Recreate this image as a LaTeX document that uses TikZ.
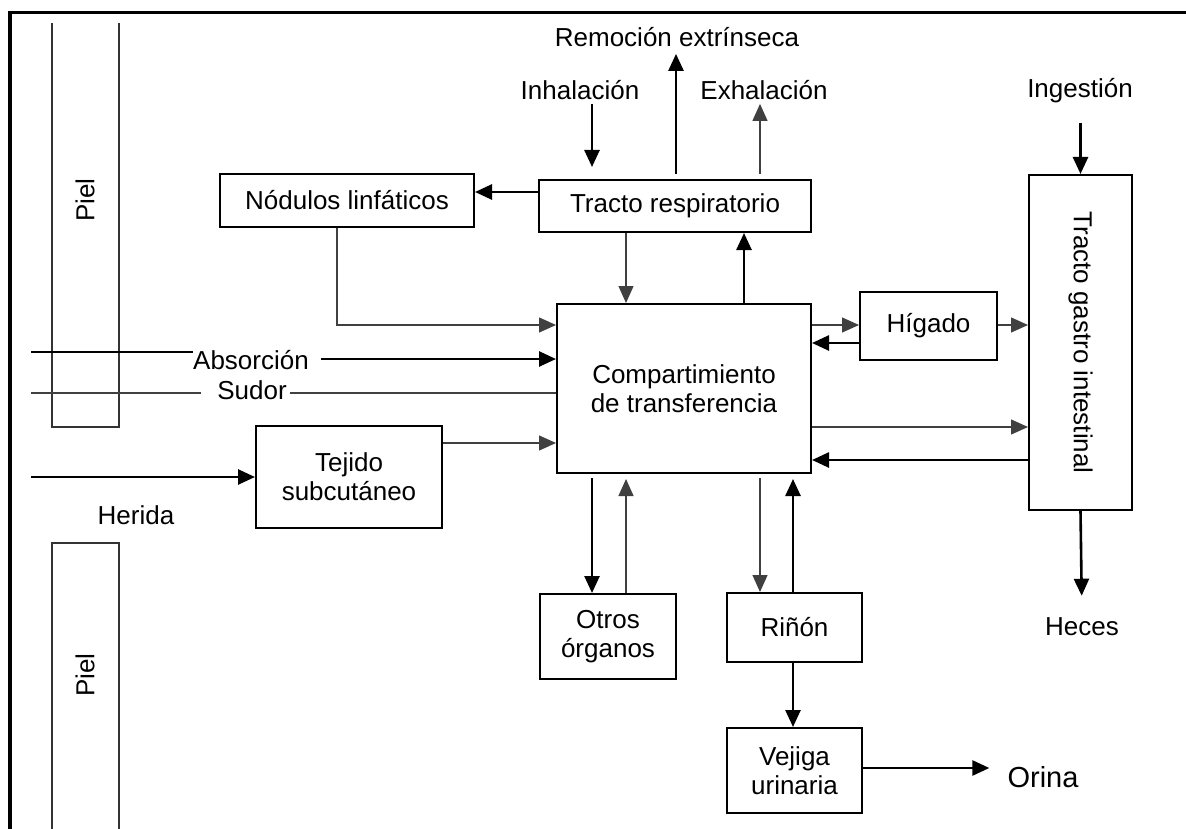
\documentclass[tikz,border=0pt]{standalone}
\usepackage{fontspec}
\setmainfont{Liberation Sans}
\usetikzlibrary{arrows.meta}
\begin{document}
\begin{tikzpicture}[x=1pt,y=-1pt,
  every node/.style={font=\fontsize{26}{29}\selectfont, inner sep=0pt},
  box/.style={draw, line width=2pt, align=center},
  tip/.style={-{Triangle[length=17pt,width=15pt]}},
  thk/.style={line width=2.6pt},
  thn/.style={line width=1.2pt, draw=black!75},
  skin/.style={line width=1.6pt, draw=black!80},
  frame/.style={line width=3.5pt}
]
\useasboundingbox (0,0) rectangle (1186,829);

% outer frame (top and left only)
\draw[frame] (10,829) -- (10,12.7) -- (1186,12.7);

% skin layers
\draw[skin] (52,23) -- (52,427) -- (119,427) -- (119,23);
\draw[skin] (52,829) -- (52,543) -- (119,543) -- (119,829);
\node[rotate=90] (piel1) at (85,200) {Piel};
\node[rotate=90] (piel2) at (85,675) {Piel};

% compartments
\node[box, minimum width=254pt, minimum height=53pt] (nod) at (347,200.5) {Nódulos linfáticos};
\node[box, minimum width=272pt, minimum height=52pt] (resp) at (675,206) {Tracto respiratorio};
\node[box, minimum width=254pt, minimum height=169pt] (comp) at (684,388.5) {Compartimiento\\de transferencia};
\node[box, minimum width=137pt, minimum height=68pt] (hig) at (928.5,326) {Hígado};
\node[box, minimum width=103pt, minimum height=335pt] (gi) at (1080.5,342.5) {};
\node[rotate=-90] (gitxt) at (gi.center) {Tracto gastro intestinal};
\node[box, minimum width=186pt, minimum height=102pt] (tej) at (349,477) {Tejido\\subcutáneo};
\node[box, minimum width=136pt, minimum height=85pt] (otros) at (608,636.5) {Otros\\órganos};
\node[box, minimum width=135pt, minimum height=69pt] (rinon) at (794.5,627.5) {Riñón};
\node[box, minimum width=135pt, minimum height=85pt] (vej) at (794.5,770.5) {Vejiga\\urinaria};

% free labels
\node (remo) at (677,37) {Remoción extrínseca};
\node (inha) at (580,90) {Inhalación};
\node (exha) at (764,90) {Exhalación};
\node (inge) at (1080,91) {Ingestión};
\node (heces) at (1082,627) {Heces};
\node[font=\fontsize{29}{32}\selectfont] (orina) at (1043,777) {Orina};
\node (absor) at (251,360) {Absorción};
\node (sudor) at (252,390) {Sudor};
\node (herida) at (136,515) {Herida};

% free ends on the left
\coordinate (absL) at (31,352);
\coordinate (sudL) at (31,393);
\coordinate (herL) at (31,477);

% respiratory tract
\draw[thk,tip] (resp.west |- 0,192) -- (nod.east |- 0,192);
\draw[thk,tip,shorten >=12pt] (inha.south -| 592,0) ++(0,4) -- (resp.north -| 592,0);
\draw[thk,tip,shorten <=5pt,shorten >=7pt] (resp.north -| 676,0) -- (remo.south -| 676,0);
\draw[thn,tip,shorten <=5pt,shorten >=4pt] (resp.north -| 760,0) -- (exha.south -| 760,0);
\draw[thn,tip] (resp.south -| 626,0) -- (comp.north -| 626,0);
\draw[thk,tip] (comp.north -| 744,0) -- (resp.south -| 744,0);

% lymph nodes to transfer compartment
\draw[thn,tip] (nod.south -| 337,0) |- (comp.west |- 0,325);

% absorption, sweat and wound
\draw[thk] (absL) -- (absor.west |- absL);
\draw[thk,tip,shorten <=12pt] (absor.east |- 0,359) -- (comp.west |- 0,359);
\draw[thn] (sudL) -- ([xshift=-16pt]sudor.west |- sudL);
\draw[thn] ([xshift=3pt]sudor.east |- 0,393) -- (comp.west |- 0,393);
\draw[thn,tip] (tej.east |- 0,443) -- (comp.west |- 0,443);
\draw[thk,tip] (herL) -- (tej.west |- herL);

% liver and gastrointestinal tract
\draw[thn,tip] (comp.east |- 0,325) -- (hig.west |- 0,325);
\draw[thk,tip] (hig.west |- 0,343) -- (comp.east |- 0,343);
\draw[thn,tip] (hig.east |- 0,325) -- (gi.west |- 0,325);
\draw[thn,tip] (comp.east |- 0,427) -- (gi.west |- 0,427);
\draw[thk,tip] (gi.west |- 0,460) -- (comp.east |- 0,460);
\draw[thk,tip] (inge.south -| gi.north) ++(0,20) -- (gi.north);
\draw[thk,tip,shorten >=22pt] (gi.south) -- (heces.north);

% other organs and kidney
\draw[thk,tip,shorten <=4pt] (comp.south -| 592,0) -- (otros.north -| 592,0);
\draw[thn,tip,shorten >=5pt] (otros.north -| 626,0) -- (comp.south -| 626,0);
\draw[thn,tip,shorten <=4pt] (comp.south -| 760,0) -- (rinon.north -| 760,0);
\draw[thk,tip,shorten >=5pt] (rinon.north -| 793,0) -- (comp.south -| 793,0);
\draw[thk,tip] (rinon.south -| 793,0) -- (vej.north -| 793,0);
\draw[thk,tip,shorten >=18pt] (vej.east |- 0,768) -- (orina.west |- 0,768);
\end{tikzpicture}
\end{document}
